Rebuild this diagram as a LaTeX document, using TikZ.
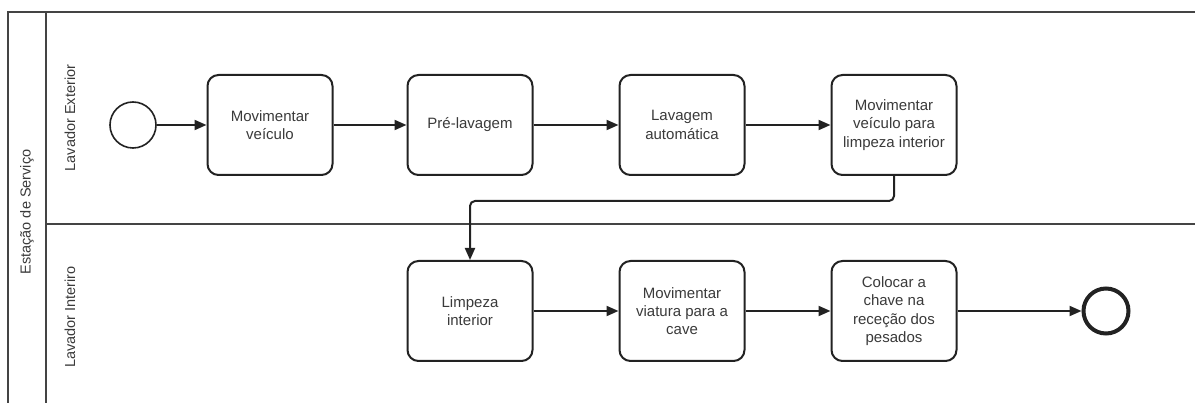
\documentclass[tikz,border=0pt]{standalone}
\usepackage{fontspec}
\setmainfont{Liberation Sans}
\usetikzlibrary{arrows.meta}
\definecolor{ink}{HTML}{222222}
\definecolor{txt}{HTML}{3A3A3A}
\definecolor{pool}{HTML}{444444}
\tikzset
 {> = {Triangle[length=12pt,width=10pt]},     % filled arrow tips as in the BPMN tool
  task/.style =    % every activity of the process
   {draw=ink, line width=2pt, rounded corners=11pt, fill=white,
    minimum width=125pt, minimum height=100pt, align=center,
    text=txt, font=\fontsize{15}{18.3}\selectfont
   },
  start/.style = {draw=ink, circle, line width=1.6pt, minimum size=46pt}, % start event
  stop/.style  = {draw=ink, circle, line width=4pt, minimum size=45pt},   % end event
  flow/.style  = {->, draw=ink, line width=2pt},         % sequence flows
  lane/.style  = {draw=pool, line width=1.2pt},         % pool and lane borders
  lanelabel/.style = {rotate=90, text=txt, font=\fontsize{14.5}{17}\selectfont}
 }
\begin{document}
\begin{tikzpicture}[x=1pt, y=-1pt]
    \useasboundingbox (0,0) rectangle (1195,403);
    % pool with its two lanes
    \draw[lane] (1195,12) -- (8,12) -- (8,403);
    \draw[lane] (46,12) -- (46,403);
    \draw[lane] (46,224) -- (1195,224);
    \node[lanelabel] (pool) at (27,212) {Estação de Serviço};
    \node[lanelabel] (exterior) at (70,118) {Lavador Exterior};
    \node[lanelabel] (interior) at (70,317) {Lavador Interiro};
    % events
    \node[start] (begin) at (133,125) {};
    \node[stop] (end) at (1106,311) {};
    % activities
    \foreach \name/\x/\y/\text in
      {move/270/125/{Movimentar\\veículo},
       prewash/470/125/{Pré-lavagem},
       wash/682/125/{Lavagem\\automática},
       toclean/894/125/{Movimentar\\veículo para\\limpeza interior},
       clean/470/311/{Limpeza\\interior},
       cave/682/311/{Movimentar\\viatura para a\\cave},
       key/894/311/{Colocar a\\chave na\\receção dos\\pesados}}
    \node[task] (\name) at (\x,\y) {\text};
    % sequence flows
    \draw[flow] (begin) -- (move);
    \draw[flow] (move) -- (prewash);
    \draw[flow] (prewash) -- (wash);
    \draw[flow] (wash) -- (toclean);
    \draw[flow, rounded corners=5pt] (toclean.south) -- ++(0,25) -| (clean.north);
    \draw[flow] (clean) -- (cave);
    \draw[flow] (cave) -- (key);
    \draw[flow] (key) -- (end);
\end{tikzpicture}
\end{document}
